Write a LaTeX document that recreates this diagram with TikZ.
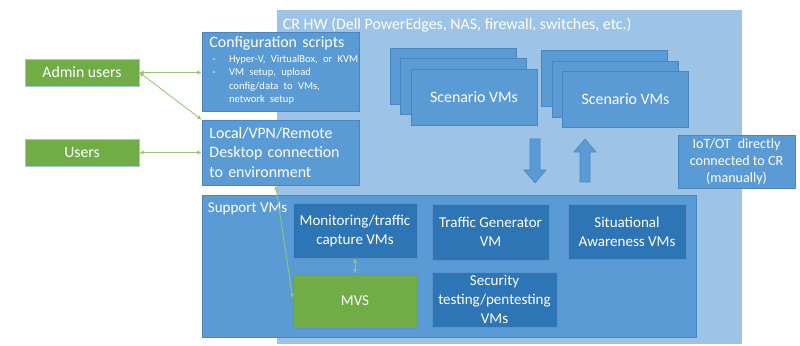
\documentclass[tikz,border=0pt]{standalone}
\usepackage{fontspec}
\setmainfont{Carlito}
\usetikzlibrary{arrows.meta, positioning}

\definecolor{hwblue}{HTML}{9DC3E6}
\definecolor{midblue}{HTML}{5B9BD5}
\definecolor{midedge}{HTML}{4A85BF}
\definecolor{darkblue}{HTML}{2E75B6}
\definecolor{darkedge}{HTML}{5A92CC}
\definecolor{usergreen}{HTML}{70AD47}
\definecolor{linkgreen}{HTML}{93C76F}

\begin{document}
\begin{tikzpicture}[
      x=0.025cm, y=-0.025cm,
      box/.style={draw=midedge, line width=0.5pt, fill=midblue, text=white, font=\fontsize{11.3}{13.8}\selectfont, inner sep=0pt},
      innerbox/.style={draw=darkedge, line width=0.5pt, fill=darkblue, text=white, align=center, font=\fontsize{10.7}{13.5}\selectfont, inner sep=0pt},
      userbox/.style={draw=hwblue, line width=0.5pt, fill=usergreen, text=white, minimum width=2.85cm, minimum height=0.675cm, font=\fontsize{11.2}{13}\selectfont},
      vmbox/.style={box, minimum width=3.15cm, minimum height=1.4cm},
      link/.style={{Latex[length=3pt,width=3pt]}-{Latex[length=3pt,width=3pt]}, line width=0.6pt, draw=linkgreen},
      blockarrow/.style={fill=midblue, draw=midedge, line width=0.4pt}
    ]
      \useasboundingbox (0,0) rectangle (800,346);

      % CR hardware background
      \node[fill=hwblue, minimum width=11.625cm, minimum height=8.35cm, inner sep=0pt] (crhw) at (509.5,177) {};
      \node[anchor=north west, text=white, font=\fontsize{11.3}{13}\selectfont, inner sep=0pt] (crhw_label) at ([xshift=0.15cm, yshift=-0.2cm]crhw.north west) {CR HW (Dell PowerEdges, NAS, firewall, switches, etc.)};

      % Left column boxes
      \node[box, minimum width=3.925cm, minimum height=1.975cm, text width=3.55cm, align=left] (config) at (280.5,71.5) {%
        Configuration scripts\\[1pt]
        {\fontsize{7.5}{9.4}\selectfont
        \begin{tabular}{@{\hspace{2pt}}p{0.42cm}@{}l@{}}
        - & Hyper-V, VirtualBox, or KVM\\
        - & VM setup, upload\\
          & config/data to VMs,\\
          & network\enspace setup
        \end{tabular}}};
      \node[box, minimum width=3.925cm, minimum height=1.625cm, text width=3.55cm, align=left] (remote) at (280.5,152.5) {Local/VPN/Remote\\Desktop connection\\to environment};

      % Users
      \node[userbox] (admin) at (82,72.5) {Admin users};
      \node[userbox] (users) at (82,152.5) {Users};

      % Scenario VM stacks
      \node[vmbox] (scen1c) at (453,76) {};
      \node[vmbox] (scen1b) at (463.5,86.5) {};
      \node[vmbox] (scen1) at (474,97) {Scenario VMs};
      \node[vmbox] (scen2c) at (604.5,78.5) {};
      \node[vmbox] (scen2b) at (615,89) {};
      \node[vmbox] (scen2) at (625.5,99.5) {Scenario VMs};

      % Block arrows between scenarios and support VMs
      \draw[blockarrow] (530,139) -- (540,139) -- (540,170) -- (546,170) -- (535,183) -- (524,170) -- (530,170) -- cycle;
      \draw[blockarrow] (580,182) -- (590,182) -- (590,152) -- (596,152) -- (585,139) -- (574,152) -- (580,152) -- cycle;

      % IoT/OT box
      \node[box, minimum width=2.925cm, minimum height=1.325cm, align=center, font=\fontsize{10}{12}\selectfont] (iot) at (736.5,161.5) {IoT/OT\enspace directly\\connected to CR\\(manually)};

      % Support VMs
      \node[box, minimum width=12.35cm, minimum height=3.55cm] (support) at (449,266) {};
      \node[anchor=north west, text=white, font=\fontsize{10.7}{13}\selectfont, inner sep=0pt] (support_label) at ([xshift=0.15cm, yshift=-0.2cm]support.north west) {Support VMs};
      \node[innerbox, minimum width=3.1cm, minimum height=1.375cm] (monitor) at (355,230.5) {Monitoring/traffic\\capture VMs};
      \node[innerbox, minimum width=2.925cm, minimum height=1.4cm] (trafgen) at (490.5,232) {Traffic Generator\\VM};
      \node[innerbox, minimum width=2.95cm, minimum height=1.375cm] (situational) at (627,231.5) {Situational\\Awareness VMs};
      \node[innerbox, minimum width=3.125cm, minimum height=1.375cm] (security) at (494.5,299.5) {Security\\testing/pentesting\\VMs};
      \node[innerbox, fill=usergreen, draw=darkedge, minimum width=3.1cm, minimum height=1.35cm] (mvs) at (355,301) {MVS};

      % Connections
      \draw[link] (admin.east) -- (admin.east -| config.west);
      \draw[link] (admin.east) -- (remote.north west);
      \draw[link] (users.east) -- (users.east -| remote.west);
      \draw[link] ([xshift=1.85cm]remote.south west) -- ([yshift=0.08cm]mvs.west);
      \draw[link] (monitor.south) -- (mvs.north);
    \end{tikzpicture}
\end{document}
